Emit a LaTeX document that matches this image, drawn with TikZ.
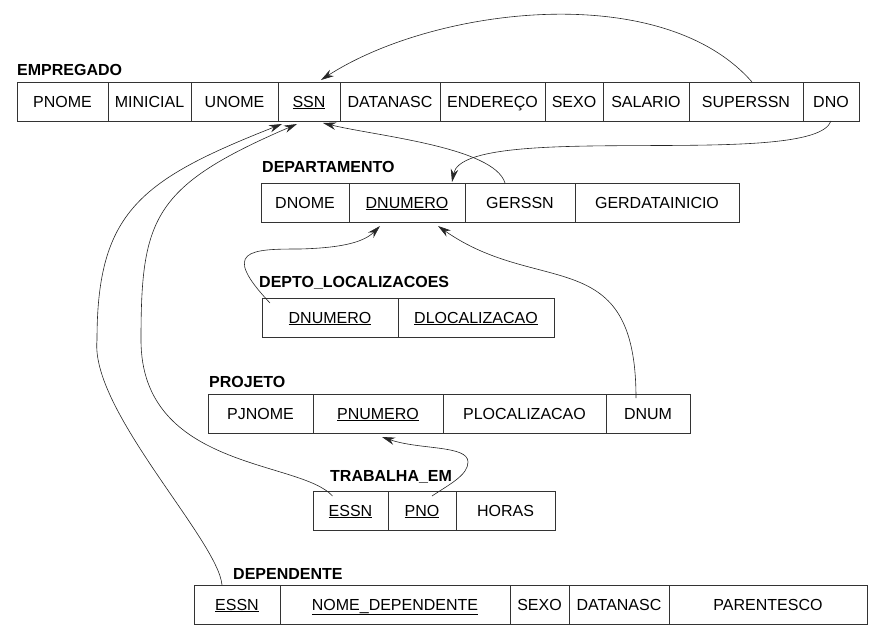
\documentclass[tikz,border=0pt]{standalone}
\usepackage{fontspec}
\setmainfont{Liberation Sans}
\usetikzlibrary{positioning,arrows.meta}

\begin{document}
\begin{tikzpicture}[x=1pt,y=-1pt,
    cell/.style={draw=black!80, line width=0.7pt, inner sep=0pt, outer sep=0pt,
      minimum height=39pt, text height=11pt, text depth=0pt,
      font=\fontsize{16}{19}\selectfont},
    relname/.style={anchor=base west, inner sep=0pt, font=\fontsize{16}{19}\selectfont\bfseries},
    fk/.style={draw=black!85, line width=0.6pt, -{Stealth[length=13pt,width=7.5pt]}}]

    \useasboundingbox (0,0) rectangle (884,643);

    % EMPREGADO
    \node[relname] (emp) at (17,75) {EMPREGADO};
    \node[cell, anchor=north west, minimum width=91pt] (emp-pnome) at (17,82) {PNOME};
    \node[cell, right=0pt of emp-pnome, minimum width=83pt] (emp-minicial) {MINICIAL};
    \node[cell, right=0pt of emp-minicial, minimum width=87pt] (emp-unome) {UNOME};
    \node[cell, right=0pt of emp-unome, minimum width=62pt] (emp-ssn) {\underline{SSN}};
    \node[cell, right=0pt of emp-ssn, minimum width=100pt] (emp-datanasc) {DATANASC};
    \node[cell, right=0pt of emp-datanasc, minimum width=105pt] (emp-endereco) {ENDEREÇO};
    \node[cell, right=0pt of emp-endereco, minimum width=58pt] (emp-sexo) {SEXO};
    \node[cell, right=0pt of emp-sexo, minimum width=86pt] (emp-salario) {SALARIO};
    \node[cell, right=0pt of emp-salario, minimum width=114pt] (emp-superssn) {SUPERSSN};
    \node[cell, right=0pt of emp-superssn, minimum width=56pt] (emp-dno) {DNO};

    % DEPARTAMENTO
    \node[relname] (dept) at (262,172) {DEPARTAMENTO};
    \node[cell, anchor=north west, minimum width=88pt] (dept-dnome) at (261,183) {DNOME};
    \node[cell, right=0pt of dept-dnome, minimum width=116pt] (dept-dnumero) {\underline{DNUMERO}};
    \node[cell, right=0pt of dept-dnumero, minimum width=110pt] (dept-gerssn) {GERSSN};
    \node[cell, right=0pt of dept-gerssn, minimum width=164pt] (dept-gerdata) {GERDATAINICIO};

    % DEPTO_LOCALIZACOES
    \node[relname] (loc) at (259,287) {DEPTO\_LOCALIZACOES};
    \node[cell, anchor=north west, minimum width=136pt] (loc-dnumero) at (262,298) {\underline{DNUMERO}};
    \node[cell, right=0pt of loc-dnumero, minimum width=156pt] (loc-dlocal) {\underline{DLOCALIZACAO}};

    % PROJETO
    \node[relname] (proj) at (209,387) {PROJETO};
    \node[cell, anchor=north west, minimum width=105pt] (proj-pjnome) at (208,394) {PJNOME};
    \node[cell, right=0pt of proj-pjnome, minimum width=130pt] (proj-pnumero) {\underline{PNUMERO}};
    \node[cell, right=0pt of proj-pnumero, minimum width=163pt] (proj-plocal) {PLOCALIZACAO};
    \node[cell, right=0pt of proj-plocal, minimum width=84pt] (proj-dnum) {DNUM};

    % TRABALHA_EM
    \node[relname] (trab) at (330,481) {TRABALHA\_EM};
    \node[cell, anchor=north west, minimum width=75pt] (trab-essn) at (313,491) {\underline{ESSN}};
    \node[cell, right=0pt of trab-essn, minimum width=68pt] (trab-pno) {\underline{PNO}};
    \node[cell, right=0pt of trab-pno, minimum width=99pt] (trab-horas) {HORAS};

    % DEPENDENTE
    \node[relname] (dpnd) at (233,579) {DEPENDENTE};
    \node[cell, anchor=north west, minimum width=86pt] (dpnd-essn) at (194,585) {\underline{ESSN}};
    \node[cell, right=0pt of dpnd-essn, minimum width=230pt] (dpnd-nome) {\underline{NOME\_DEPENDENTE}};
    \node[cell, right=0pt of dpnd-nome, minimum width=59pt] (dpnd-sexo) {SEXO};
    \node[cell, right=0pt of dpnd-sexo, minimum width=100pt] (dpnd-datanasc) {DATANASC};
    \node[cell, right=0pt of dpnd-datanasc, minimum width=198pt] (dpnd-parentesco) {PARENTESCO};

    % bends of the long references
    \coordinate (dpnd-bend) at (97,340);
    \coordinate (trab-bend) at (141,340);
    \coordinate (loc-bend) at (300,249);
    \coordinate (trab-loop) at (468,462);

    % references to EMPREGADO.SSN
    \draw[fk] ([xshift=6pt]emp-superssn.north) .. controls +(-90,-103) and +(113,-73) .. ([xshift=12pt,yshift=2pt]emp-ssn.north);
    \draw[fk] ([xshift=-15pt]dept-gerssn.north) .. controls +(-11,-36) and +(53,13) .. ([xshift=14pt,yshift=-2pt]emp-ssn.south);
    \draw[fk] ([xshift=-18pt,yshift=-5pt]trab-essn.north) .. controls +(-32,-36) and +(0,130) .. (trab-bend)
        .. controls +(0,-122) and +(-144,62) .. ([xshift=-12pt,yshift=-3pt]emp-ssn.south);
    \draw[fk] ([xshift=-15pt]dpnd-essn.north) .. controls +(-4,-45) and +(-7,70) .. (dpnd-bend)
        .. controls +(0,-128) and +(-142,56) .. ([xshift=-27pt,yshift=-3pt]emp-ssn.south);

    % references to DEPARTAMENTO.DNUMERO
    \draw[fk] (emp-dno.south) .. controls +(-17,49) and +(12,-62) .. ([xshift=45pt,yshift=1pt]dept-dnumero.north);
    \draw[fk] ([xshift=8pt,yshift=-5pt]loc-dnumero.north west) .. controls +(-50,-53) and +(-50,0) .. (loc-bend)
        .. controls +(35,-1) and +(-18,18) .. ([xshift=-27pt,yshift=-4pt]dept-dnumero.south);
    \draw[fk] ([xshift=-12pt,yshift=-4pt]proj-dnum.north) .. controls +(0,-156) and +(101,71) .. ([xshift=31pt,yshift=-4pt]dept-dnumero.south);

    % reference to PROJETO.PNUMERO
    \draw[fk] ([xshift=10pt,yshift=-5pt]trab-pno.north) .. controls +(18,-12) and +(0,13) .. (trab-loop)
        .. controls +(0,-17) and +(38,13) .. ([xshift=4pt,yshift=-4pt]proj-pnumero.south);

\end{tikzpicture}
\end{document}
